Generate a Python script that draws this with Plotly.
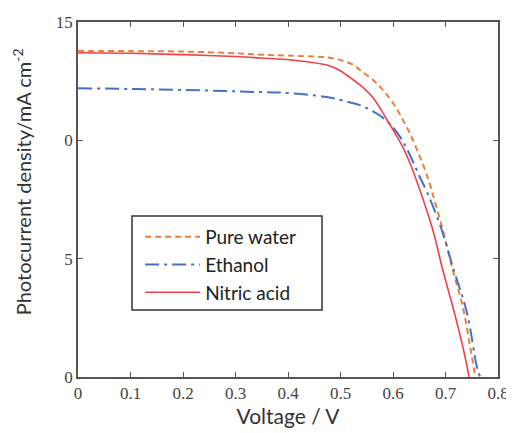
import plotly.graph_objects as go

water_v = [0, 0.1, 0.2, 0.3, 0.35, 0.4, 0.45, 0.475, 0.5, 0.525, 0.537, 0.562, 0.581, 0.6, 0.619, 0.632,
           0.646, 0.661, 0.67, 0.695, 0.714, 0.733, 0.747, 0.757]
water_j = [13.78, 13.77, 13.75, 13.68, 13.62, 13.58, 13.54, 13.5, 13.39, 13.18, 12.97, 12.55, 12.12, 11.58, 10.86, 10.3,
           9.59, 8.75, 8.15, 6.2, 4.5, 2.96, 1.27, 0]

ethanol_v = [0, 0.1, 0.2, 0.3, 0.347, 0.385, 0.474, 0.518, 0.537, 0.562, 0.581, 0.6, 0.619, 0.636, 0.651, 0.665,
             0.69, 0.714, 0.741, 0.76, 0.766]
ethanol_j = [12.2, 12.17, 12.13, 12.07, 12.04, 12.02, 11.83, 11.6, 11.49, 11.22, 10.95, 10.55, 9.95, 9.2, 8.45, 7.8,
             6.4, 4.65, 2.7, 0.4, 0]

nitric_v = [0, 0.1, 0.2, 0.3, 0.347, 0.41, 0.474, 0.499, 0.512, 0.537, 0.562, 0.589, 0.608, 0.619, 0.632, 0.648,
            0.676, 0.695, 0.714, 0.733, 0.745]
nitric_j = [13.7, 13.68, 13.62, 13.54, 13.48, 13.39, 13.18, 12.95, 12.75, 12.34, 11.8, 10.85, 10.15, 9.7, 9.05, 8.1,
            6.2, 4.5, 2.96, 1.27, 0]

x_ticks = [0, 0.1, 0.2, 0.3, 0.4, 0.5, 0.6, 0.7, 0.8]
x_labels = ["0", "0.1", "0.2", "0.3", "0.4", "0.5", "0.6", "0.7", "0.8"]
y_ticks = [0, 5, 10, 15]
y_labels = ["0", "5", "0", "15"]

fig = go.Figure()
fig.add_trace(go.Scatter(x=water_v, y=water_j, mode="lines", name="Pure water", legendgroup="a",
                         line=dict(color="#E8803A", width=2, dash="6px,4px", shape="spline", smoothing=1.0)))
fig.add_trace(go.Scatter(x=ethanol_v, y=ethanol_j, mode="lines", name="Ethanol", legendgroup="b",
                         line=dict(color="#4472C4", width=2, dash="14px,5px,3px,5px", shape="spline", smoothing=1.0)))
fig.add_trace(go.Scatter(x=nitric_v, y=nitric_j, mode="lines", name="Nitric acid", legendgroup="c",
                         line=dict(color="#F0404A", width=1.6, shape="spline", smoothing=1.0)))

axis_common = dict(showline=True, linecolor="#555555", linewidth=1.5, mirror="ticks",
                   ticks="inside", ticklen=5, tickcolor="#555555", tickwidth=1.2,
                   showgrid=False, zeroline=False, automargin=False,
                   tickfont=dict(family="Liberation Serif", size=17, color="#444444"))

# legend frame drawn as a paper-space rectangle
fig.add_shape(type="rect", xref="paper", yref="paper",
              x0=0.1286, x1=0.581, y0=0.189, y1=0.4535,
              line=dict(color="#333333", width=1.5), fillcolor="white", layer="below")

# y-axis title as a rotated annotation
fig.add_annotation(text="Photocurrent density/mA cm<sup>-2</sup>", xref="paper", yref="paper",
                   x=-0.133, y=0.549, textangle=-90, showarrow=False,
                   xanchor="center", yanchor="middle",
                   font=dict(family="Lato", size=20, color="#333333"))

fig.update_layout(
    width=506, height=425,
    margin=dict(l=70, r=16, t=14, b=56),
    paper_bgcolor="white", plot_bgcolor="white",
    showlegend=True,
    legend=dict(x=0.148, y=0.448, xanchor="left", yanchor="top",
                borderwidth=0, bgcolor="rgba(0,0,0,0)",
                font=dict(family="Lato", size=19, color="#222222"),
                itemwidth=55, tracegroupgap=0, traceorder="grouped"),
    xaxis=dict(range=[0, 0.8], tickvals=x_ticks, ticktext=x_labels,
               title=dict(text="Voltage / V", font=dict(family="Lato", size=21, color="#333333"), standoff=0),
               **axis_common),
    yaxis=dict(range=[0, 15], tickvals=y_ticks, ticktext=y_labels, **axis_common),
)

fig.write_html("out.html")
